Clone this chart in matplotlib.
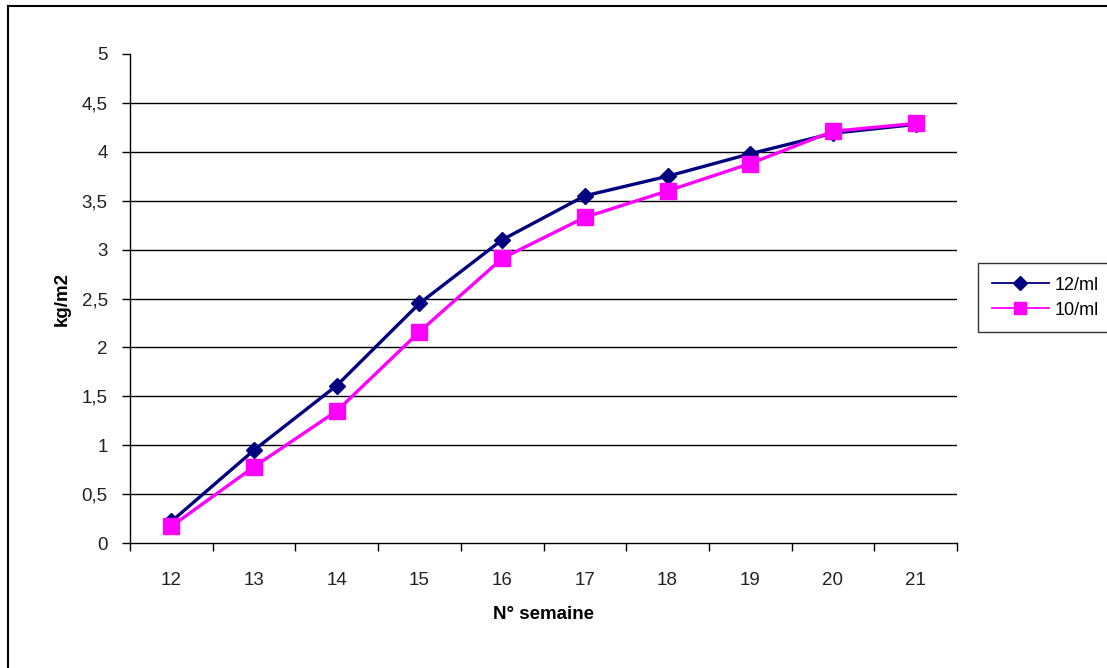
#!/usr/bin/env python3
# -*- coding: utf-8 -*-
"""Croissance kg/m2 par semaine, 12/ml contre 10/ml."""

import matplotlib
matplotlib.use("Agg")
import matplotlib.pyplot as plt
from matplotlib.lines import Line2D

semaines = ["12", "13", "14", "15", "16", "17", "18", "19", "20", "21"]
serie_12ml = [0.22, 0.95, 1.61, 2.45, 3.10, 3.55, 3.75, 3.98, 4.19, 4.28]
serie_10ml = [0.17, 0.78, 1.35, 2.16, 2.91, 3.33, 3.60, 3.88, 4.21, 4.29]
y_ticks = [0, 0.5, 1, 1.5, 2, 2.5, 3, 3.5, 4, 4.5, 5]
y_labels = ["0", "0,5", "1", "1,5", "2", "2,5", "3", "3,5", "4", "4,5", "5"]

plt.rcParams["font.family"] = ["Liberation Sans", "DejaVu Sans"]

W, H = 1107, 668
fig = plt.figure(figsize=(W / 100, H / 100), dpi=100)
ax = fig.add_axes([130 / W, 1 - 543 / H, (957 - 130) / W, (543 - 54) / H])

x = list(range(len(semaines)))

# grille horizontale (sans la ligne du haut)
for v in y_ticks[1:-1]:
    ax.axhline(v, color="black", linewidth=1.0, zorder=1)

ax.plot(x, serie_12ml, color="#000080", linewidth=2.4, marker="D",
        markersize=8, label="12/ml", zorder=3)
ax.plot(x, serie_10ml, color="#FF00FF", linewidth=2.4, marker="s",
        markersize=12, label="10/ml", zorder=4)

ax.set_xlim(-0.5, len(semaines) - 0.5)
ax.set_ylim(0, 5)

ax.set_yticks(y_ticks)
ax.set_yticklabels(y_labels)
ax.set_xticks([i - 0.5 for i in range(len(semaines) + 1)])
ax.set_xticklabels([])
ax.set_xticks(x, minor=True)
ax.set_xticklabels(semaines, minor=True)
ax.tick_params(axis="x", which="major", direction="out", length=6, width=1)
ax.tick_params(axis="x", which="minor", length=0, pad=21, labelsize=13.5,
               labelcolor="#222222")
ax.tick_params(axis="y", direction="out", length=6, width=1, pad=10,
               labelsize=13.5, labelcolor="#222222")

for s in ["top", "right"]:
    ax.spines[s].set_visible(False)
for s in ["left", "bottom"]:
    ax.spines[s].set_linewidth(1.0)
    ax.spines[s].set_color("black")

ax.set_xlabel("N° semaine", fontsize=13.5, fontweight="bold", labelpad=12)
ax.set_ylabel("kg/m2", fontsize=13.5, fontweight="bold", labelpad=8)

leg = fig.legend(loc="upper left", bbox_to_anchor=(978 / W, 1 - 263 / H),
                 borderaxespad=0, fontsize=13, frameon=True, fancybox=False,
                 borderpad=0.75, handlelength=3.2, labelspacing=0.45,
                 handletextpad=0.3)
leg.get_frame().set_edgecolor("black")
leg.get_frame().set_linewidth(1.0)
for h in leg.legend_handles:
    h.set_linewidth(1.3)
leg.legend_handles[0].set_markersize(7)
leg.legend_handles[1].set_markersize(9)

# cadre extérieur (seuls le haut et la gauche sont visibles)
fig.add_artist(Line2D([8 / W, 8 / W], [0, 1 - 6 / H], color="black",
                      linewidth=1.5, transform=fig.transFigure))
fig.add_artist(Line2D([8 / W, 1], [1 - 6 / H, 1 - 6 / H], color="black",
                      linewidth=1.5, transform=fig.transFigure))

fig.savefig("out.png", dpi=100)
